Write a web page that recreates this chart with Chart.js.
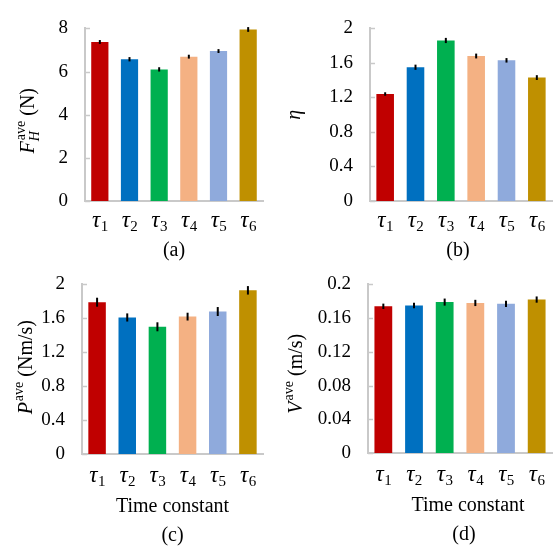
<!DOCTYPE html>
<html>
<head>
<meta charset="utf-8">
<script src="https://cdn.jsdelivr.net/npm/chart.js@4/dist/chart.umd.min.js"></script>
<style>
  html, body { margin: 0; padding: 0; background: #fff; }
  #page { position: relative; width: 558px; height: 553px; overflow: hidden; }
  .panel { position: absolute; }
  .panel canvas { display: block; }
</style>
</head>
<body>
<div id="page">
  <div class="panel" style="left:0;top:0"><canvas id="chartA" width="279" height="264"></canvas></div>
  <div class="panel" style="left:279px;top:0"><canvas id="chartB" width="279" height="264"></canvas></div>
  <div class="panel" style="left:0;top:256px"><canvas id="chartC" width="279" height="297"></canvas></div>
  <div class="panel" style="left:279px;top:256px"><canvas id="chartD" width="279" height="297"></canvas></div>
</div>
<script>
// ── Data ──
const categories = ['τ1', 'τ2', 'τ3', 'τ4', 'τ5', 'τ6'];

const forceValues = [7.37, 6.57, 6.10, 6.69, 6.95, 7.95];
const forceErrors = [0.09, 0.10, 0.10, 0.09, 0.09, 0.11];
const forceTicks = [0, 2, 4, 6, 8];

const etaValues = [1.24, 1.55, 1.86, 1.68, 1.63, 1.43];
const etaErrors = [0.02, 0.03, 0.03, 0.028, 0.026, 0.028];
const etaTicks = [0, 0.4, 0.8, 1.2, 1.6, 2];

const powerValues = [1.79, 1.61, 1.50, 1.62, 1.68, 1.93];
const powerErrors = [0.053, 0.048, 0.053, 0.046, 0.053, 0.05];
const powerTicks = [0, 0.4, 0.8, 1.2, 1.6, 2];

const speedValues = [0.174, 0.175, 0.179, 0.178, 0.177, 0.182];
const speedErrors = [0.0032, 0.0032, 0.0042, 0.0037, 0.0037, 0.0037];
const speedTicks = [0, 0.04, 0.08, 0.12, 0.16, 0.2];

// ── Styles ──
const barColors = ['#C00000', '#0070C0', '#00B050', '#F4B183', '#8FAADC', '#BF9000'];
const AXIS = '#c9c9c9';
const SERIF = "'Liberation Serif', 'Times New Roman', serif";

function font(size, italic) {
  return (italic ? 'italic ' : '') + size + 'px ' + SERIF;
}

// ── Rich text (italic letters, super/subscripts) ──
function richWidth(ctx, parts) {
  let w = 0;
  parts.forEach(p => {
    if (p.sup || p.sub) {
      let a = 0, b = 0;
      if (p.sup) { ctx.font = font(14, false); a = ctx.measureText(p.sup).width; }
      if (p.sub) { ctx.font = font(14, true); b = ctx.measureText(p.sub).width; }
      w += Math.max(a, b) + 1;
    } else {
      ctx.font = font(20, p.i);
      w += ctx.measureText(p.t).width;
    }
  });
  return w;
}

function drawRich(ctx, parts, x, y) {
  parts.forEach(p => {
    if (p.sup || p.sub) {
      let a = 0, b = 0;
      if (p.sup) { ctx.font = font(14, false); ctx.fillText(p.sup, x + 1, y - 9); a = ctx.measureText(p.sup).width; }
      if (p.sub) { ctx.font = font(14, true); ctx.fillText(p.sub, x, y + 5); b = ctx.measureText(p.sub).width; }
      x += Math.max(a, b) + 1;
    } else {
      ctx.font = font(20, p.i);
      ctx.fillText(p.t, x, y);
      x += ctx.measureText(p.t).width;
    }
  });
}

// ── Error bars, inner tick stubs, labels and captions ──
const panelDecor = {
  id: 'panelDecor',
  afterDatasetsDraw(chart, args, opts) {
    const ctx = chart.ctx;
    const meta = chart.getDatasetMeta(0);
    const y = chart.scales.y;
    const vals = chart.data.datasets[0].data;
    ctx.save();
    ctx.strokeStyle = '#000';
    ctx.lineWidth = 2;
    meta.data.forEach((bar, i) => {
      ctx.beginPath();
      ctx.moveTo(bar.x, y.getPixelForValue(vals[i] + opts.errors[i]));
      ctx.lineTo(bar.x, y.getPixelForValue(vals[i] - opts.errors[i]));
      ctx.stroke();
    });
    ctx.restore();
  },
  afterDraw(chart, args, opts) {
    const ctx = chart.ctx;
    const area = chart.chartArea;
    const x = chart.scales.x;
    const y = chart.scales.y;
    ctx.save();

    // tick stubs pointing inward
    ctx.strokeStyle = AXIS;
    ctx.lineWidth = 1.5;
    y.ticks.forEach(t => {
      const py = Math.round(y.getPixelForValue(t.value)) + 0.5;
      ctx.beginPath();
      ctx.moveTo(area.left, py);
      ctx.lineTo(area.left + 5, py);
      ctx.stroke();
    });

    // category labels: italic tau with subscript index
    ctx.fillStyle = '#000';
    ctx.textBaseline = 'alphabetic';
    ctx.textAlign = 'left';
    categories.forEach((c, i) => {
      const base = c.charAt(0), idx = c.slice(1);
      ctx.font = font(23, true);
      const w1 = ctx.measureText(base).width;
      ctx.font = font(15, false);
      const w2 = ctx.measureText(idx).width;
      const cx = x.getPixelForValue(i);
      const sx = cx - (w1 + w2) / 2;
      const by = area.bottom + opts.tauDy;
      ctx.font = font(23, true);
      ctx.fillText(base, sx, by);
      ctx.font = font(15, false);
      ctx.fillText(idx, sx + w1 + 0.5, by + 4);
    });

    // x title and caption
    const mid = (area.left + area.right) / 2;
    ctx.textAlign = 'center';
    ctx.font = font(20, false);
    if (opts.xTitle) {
      ctx.fillText(opts.xTitle, mid + opts.titleDx, area.bottom + 58);
    }
    ctx.fillText(opts.caption, mid + opts.captionDx, area.bottom + opts.captionDy);

    // rotated y title
    ctx.textAlign = 'left';
    const w = richWidth(ctx, opts.yTitle);
    ctx.translate(area.left + opts.yTitleDx + 7, (area.top + area.bottom) / 2 + opts.yTitleDy);
    ctx.rotate(-Math.PI / 2);
    drawRich(ctx, opts.yTitle, -w / 2, 0);
    ctx.restore();
  }
};

function makePanel(id, values, errors, ticks, p) {
  new Chart(document.getElementById(id), {
    type: 'bar',
    data: {
      labels: categories,
      datasets: [{
        data: values,
        backgroundColor: barColors,
        barPercentage: 0.58,
        categoryPercentage: 1
      }]
    },
    options: {
      responsive: false,
      animation: false,
      devicePixelRatio: 1,
      layout: { padding: { top: p.padTop, right: p.padRight, left: 0, bottom: 0 } },
      plugins: {
        legend: { display: false },
        tooltip: { enabled: false },
        panelDecor: {
          errors: errors,
          yTitle: p.yTitle,
          yTitleDx: p.yTitleDx,
          yTitleDy: p.yTitleDy || 0,
          xTitle: p.xTitle,
          titleDx: p.titleDx || 0,
          caption: p.caption,
          captionDx: p.captionDx || 0,
          captionDy: p.captionDy,
          tauDy: p.tauDy
        }
      },
      scales: {
        x: {
          grid: { display: false, drawTicks: false },
          border: { display: true, color: AXIS, width: 2 },
          ticks: { display: false },
          afterFit: s => { s.height = p.xHeight; }
        },
        y: {
          min: 0,
          max: ticks[ticks.length - 1],
          grid: { display: false, drawTicks: false },
          border: { display: true, color: AXIS, width: 2 },
          ticks: {
            color: '#000',
            font: { family: SERIF, size: 19 },
            padding: 17,
            callback: v => String(v)
          },
          afterBuildTicks: s => { s.ticks = ticks.map(v => ({ value: v })); },
          afterFit: s => { s.width = p.yWidth; }
        }
      }
    },
    plugins: [panelDecor]
  });
}

makePanel('chartA', forceValues, forceErrors, forceTicks, {
  padTop: 12, padRight: 16, yWidth: 85, xHeight: 63,
  yTitle: [{ t: 'F', i: true }, { sup: 'ave', sub: 'H' }, { t: ' (N)' }],
  yTitleDx: -58, yTitleDy: 6,
  caption: '(a)', captionDy: 55, tauDy: 26
});

makePanel('chartB', etaValues, etaErrors, etaTicks, {
  padTop: 12, padRight: 6, yWidth: 91, xHeight: 63,
  yTitle: [{ t: 'η', i: true }],
  yTitleDx: -77, yTitleDy: 0,
  caption: '(b)', captionDx: -3, captionDy: 55, tauDy: 26
});

makePanel('chartC', powerValues, powerErrors, powerTicks, {
  padTop: 9, padRight: 16, yWidth: 82, xHeight: 99,
  yTitle: [{ t: 'P', i: true }, { sup: 'ave' }, { t: ' (Nm/s)' }],
  yTitleDx: -57, yTitleDy: -2,
  xTitle: 'Time constant',
  caption: '(c)', captionDy: 87, tauDy: 28
});

makePanel('chartD', speedValues, speedErrors, speedTicks, {
  padTop: 8, padRight: 6, yWidth: 89, xHeight: 100,
  yTitle: [{ t: 'V', i: true }, { sup: 'ave' }, { t: ' (m/s)' }],
  yTitleDx: -73, yTitleDy: 5,
  xTitle: 'Time constant', titleDx: 8,
  caption: '(d)', captionDx: 4, captionDy: 87, tauDy: 28
});
</script>
</body>
</html>
